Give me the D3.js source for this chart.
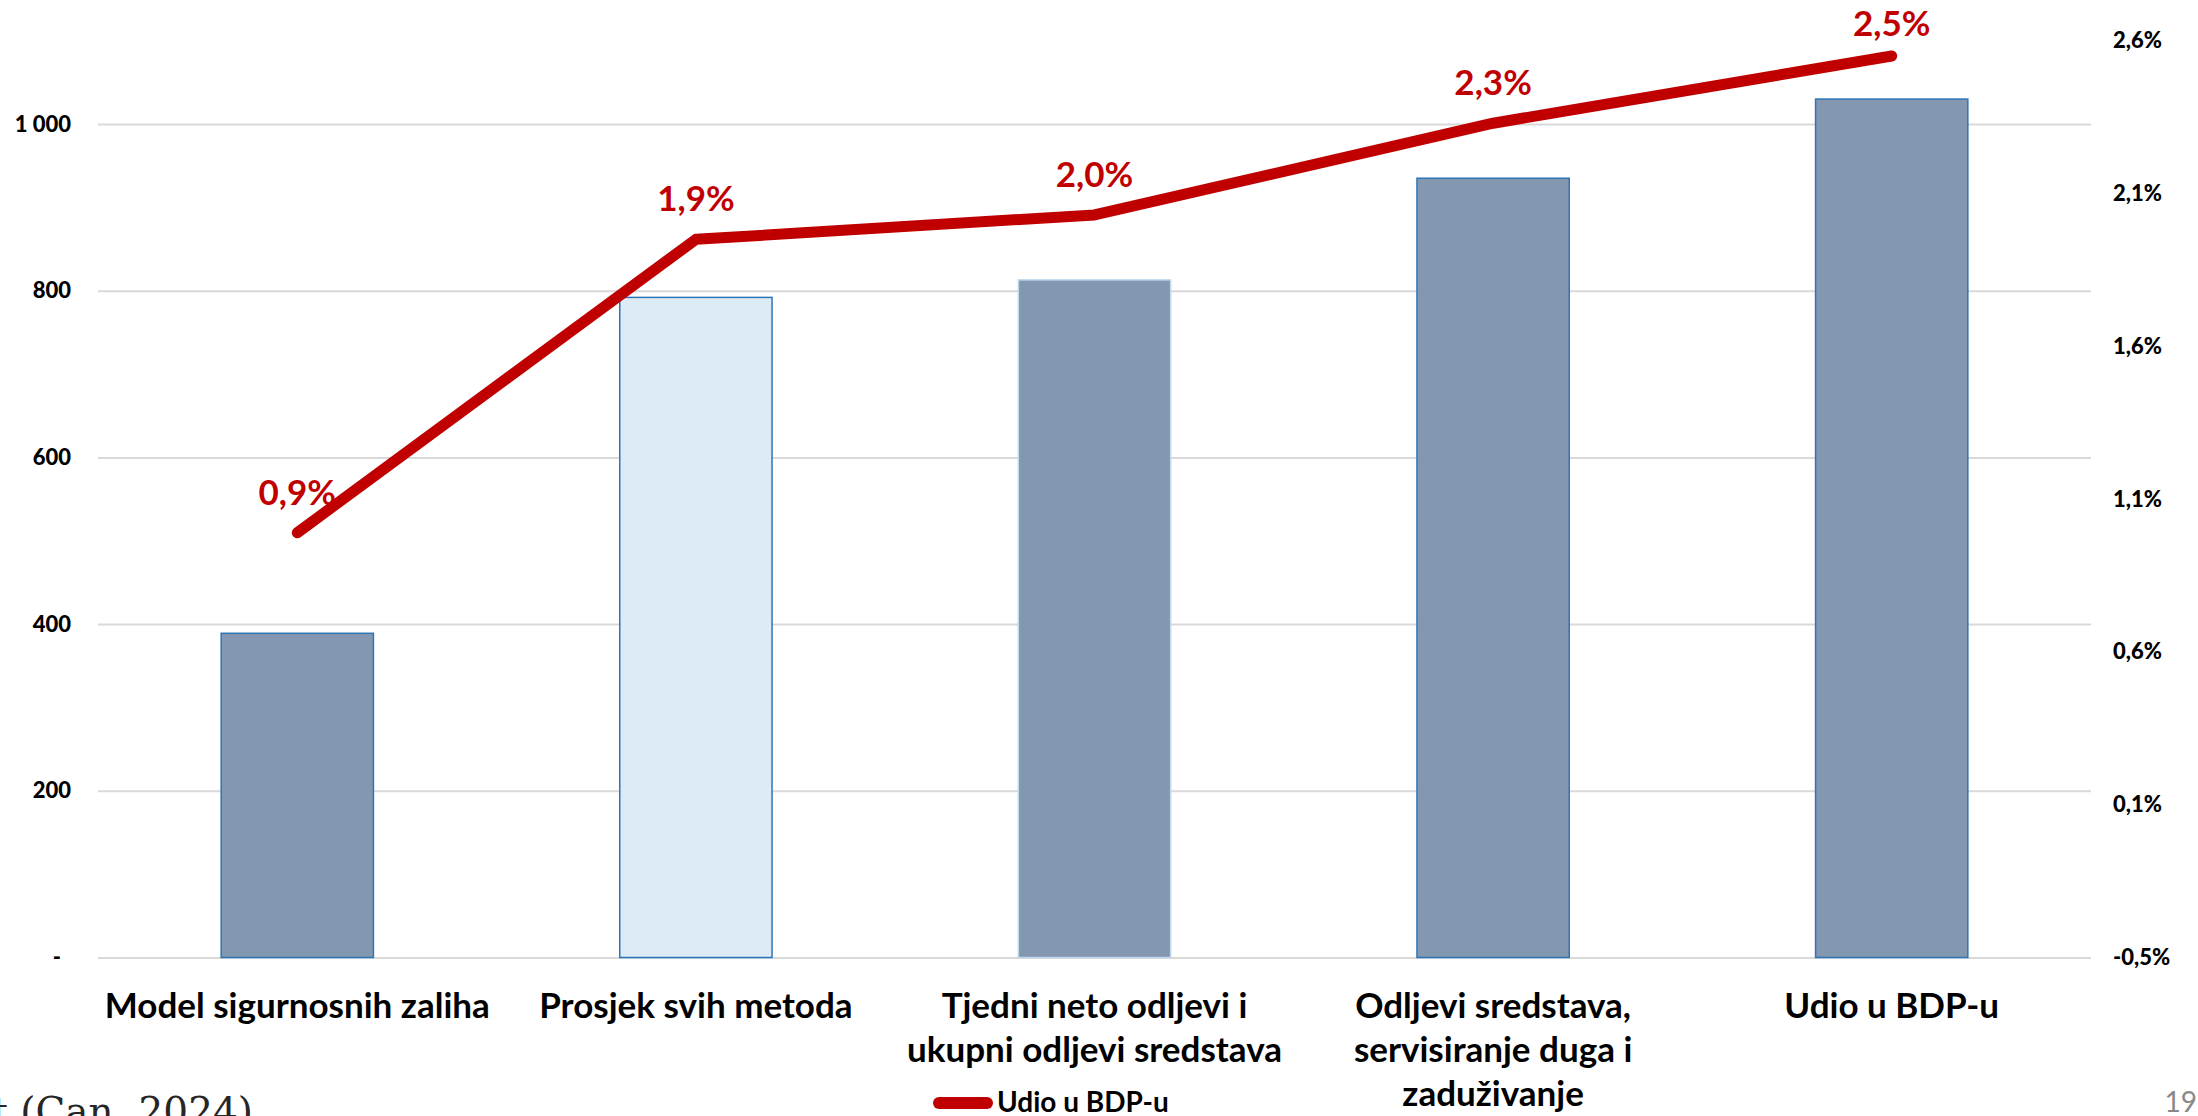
<!DOCTYPE html>
<html>
<head>
<meta charset="utf-8">
<script src="https://cdn.jsdelivr.net/npm/d3@7"></script>
<style>
  html, body { margin: 0; padding: 0; background: #ffffff; overflow: hidden; }
  svg { display: block; }
  text { font-family: Lato, "Open Sans", sans-serif; }
</style>
</head>
<body>
<svg id="chart" width="2198" height="1116"></svg>
<script>
// ---------- data ----------
const categories = [
  ["Model sigurnosnih zaliha"],
  ["Prosjek svih metoda"],
  ["Tjedni neto odljevi i", "ukupni odljevi sredstava"],
  ["Odljevi sredstava,", "servisiranje duga i", "zaduživanje"],
  ["Udio u BDP-u"]
];
const barValues = [389, 792, 813, 935, 1030];
const shareValues = [0.94, 1.90, 1.98, 2.28, 2.50];   // % of GDP
const seriesName = "Udio u BDP-u";
const leftTickValues = [0, 200, 400, 600, 800, 1000];
const leftTickLabels = ["-", "200", "400", "600", "800", "1 000"];
const rightTickValues = [-0.45, 0.05, 0.55, 1.05, 1.55, 2.05, 2.55];
const rightTickLabels = ["-0,5%", "0,1%", "0,6%", "1,1%", "1,6%", "2,1%", "2,6%"];
const sourceText = "t (Can, 2024)";
const slideNumber = "19";

// ---------- layout ----------
const W = 2198, H = 1116;
const plot = { left: 98, right: 2091, top: 40.7, bottom: 957.5 };
const barFill = ["#8497B0", "#DDEBF7", "#8497B0", "#8497B0", "#8497B0"];
const barStroke = ["#2E75B6", "#2E75B6", "#BDD7EE", "#2E75B6", "#2E75B6"];
const red = "#C00000";

const svg = d3.select("#chart");
svg.append("rect").attr("width", W).attr("height", H).attr("fill", "#fff");

const idx = categories.map((d, i) => i);
const x = d3.scaleBand().domain(idx).range([plot.left, plot.right])
  .paddingInner(0.618).paddingOuter(0.309);
const yL = d3.scaleLinear().domain([0, 1100]).range([plot.bottom, plot.top]);
const yR = d3.scaleLinear().domain([-0.45, 2.55]).range([plot.bottom, plot.top]);
const fmt = d3.formatLocale({ decimal: ",", thousands: " ", grouping: [3], currency: ["", ""] });
const pct = v => fmt.format(".1f")(v) + "%";

// gridlines + left axis
const leftAxis = d3.axisLeft(yL).tickValues(leftTickValues)
  .tickSize(-(plot.right - plot.left)).tickPadding(27)
  .tickFormat((d, i) => leftTickLabels[i]);
const gL = svg.append("g").attr("transform", `translate(${plot.left},0)`).call(leftAxis);
gL.select(".domain").remove();
gL.selectAll(".tick line").attr("stroke", "#d9d9d9").attr("stroke-width", 2);
gL.selectAll(".tick text").attr("fill", "#000").attr("font-weight", 900)
  .attr("font-size", 22).style("font-family", "Lato, sans-serif");
gL.selectAll(".tick text").filter((d, i) => i === 0).attr("dx", -10);

// right axis
const rightAxis = d3.axisRight(yR).tickValues(rightTickValues)
  .tickSize(0).tickPadding(22)
  .tickFormat((d, i) => rightTickLabels[i]);
const gR = svg.append("g").attr("transform", `translate(${plot.right},0)`).call(rightAxis);
gR.select(".domain").remove();
gR.selectAll(".tick text").attr("fill", "#000").attr("font-weight", 900)
  .attr("font-size", 22).style("font-family", "Lato, sans-serif");

// bars
svg.append("g").selectAll("rect").data(barValues).join("rect")
  .attr("x", (d, i) => x(i))
  .attr("y", d => yL(d))
  .attr("width", x.bandwidth())
  .attr("height", d => yL(0) - yL(d))
  .attr("fill", (d, i) => barFill[i])
  .attr("stroke", (d, i) => barStroke[i])
  .attr("stroke-width", 1.5);

// line
const line = d3.line().x((d, i) => x(i) + x.bandwidth() / 2).y(d => yR(d));
svg.append("path").datum(shareValues)
  .attr("d", line)
  .attr("fill", "none")
  .attr("stroke", red)
  .attr("stroke-width", 11)
  .attr("stroke-linecap", "round")
  .attr("stroke-linejoin", "round");

// data labels
svg.append("g").selectAll("text").data(shareValues).join("text")
  .attr("x", (d, i) => x(i) + x.bandwidth() / 2)
  .attr("y", d => Math.max(yR(d) - 28, 36))
  .attr("text-anchor", "middle")
  .attr("fill", red)
  .attr("font-weight", 700)
  .attr("font-size", 35)
  .text(d => pct(d));

// category labels
const cat = svg.append("g").selectAll("text").data(categories).join("text")
  .attr("x", (d, i) => x(i) + x.bandwidth() / 2)
  .attr("y", 1018)
  .attr("text-anchor", "middle")
  .attr("fill", "#000")
  .attr("font-weight", 700)
  .attr("font-size", 35);
cat.selectAll("tspan").data(d => d).join("tspan")
  .attr("x", function () { return d3.select(this.parentNode).attr("x"); })
  .attr("dy", (d, i) => i === 0 ? 0 : 44)
  .text(d => d);

// legend
const lg = svg.append("g");
lg.append("line").attr("x1", 939).attr("x2", 987).attr("y1", 1103).attr("y2", 1103)
  .attr("stroke", red).attr("stroke-width", 12).attr("stroke-linecap", "round");
lg.append("text").attr("x", 997).attr("y", 1112).attr("fill", "#000")
  .attr("font-weight", 700).attr("font-size", 28).text(seriesName);

// slide footer text
svg.append("text").attr("x", 253).attr("y", 1125).attr("text-anchor", "end")
  .attr("fill", "#262626").attr("font-size", 39)
  .style("font-family", "'DejaVu Serif', serif").text(sourceText);
svg.append("text").attr("x", 2197).attr("y", 1112).attr("text-anchor", "end")
  .attr("fill", "#898989").attr("font-size", 28).text(slideNumber);
</script>
</body>
</html>
